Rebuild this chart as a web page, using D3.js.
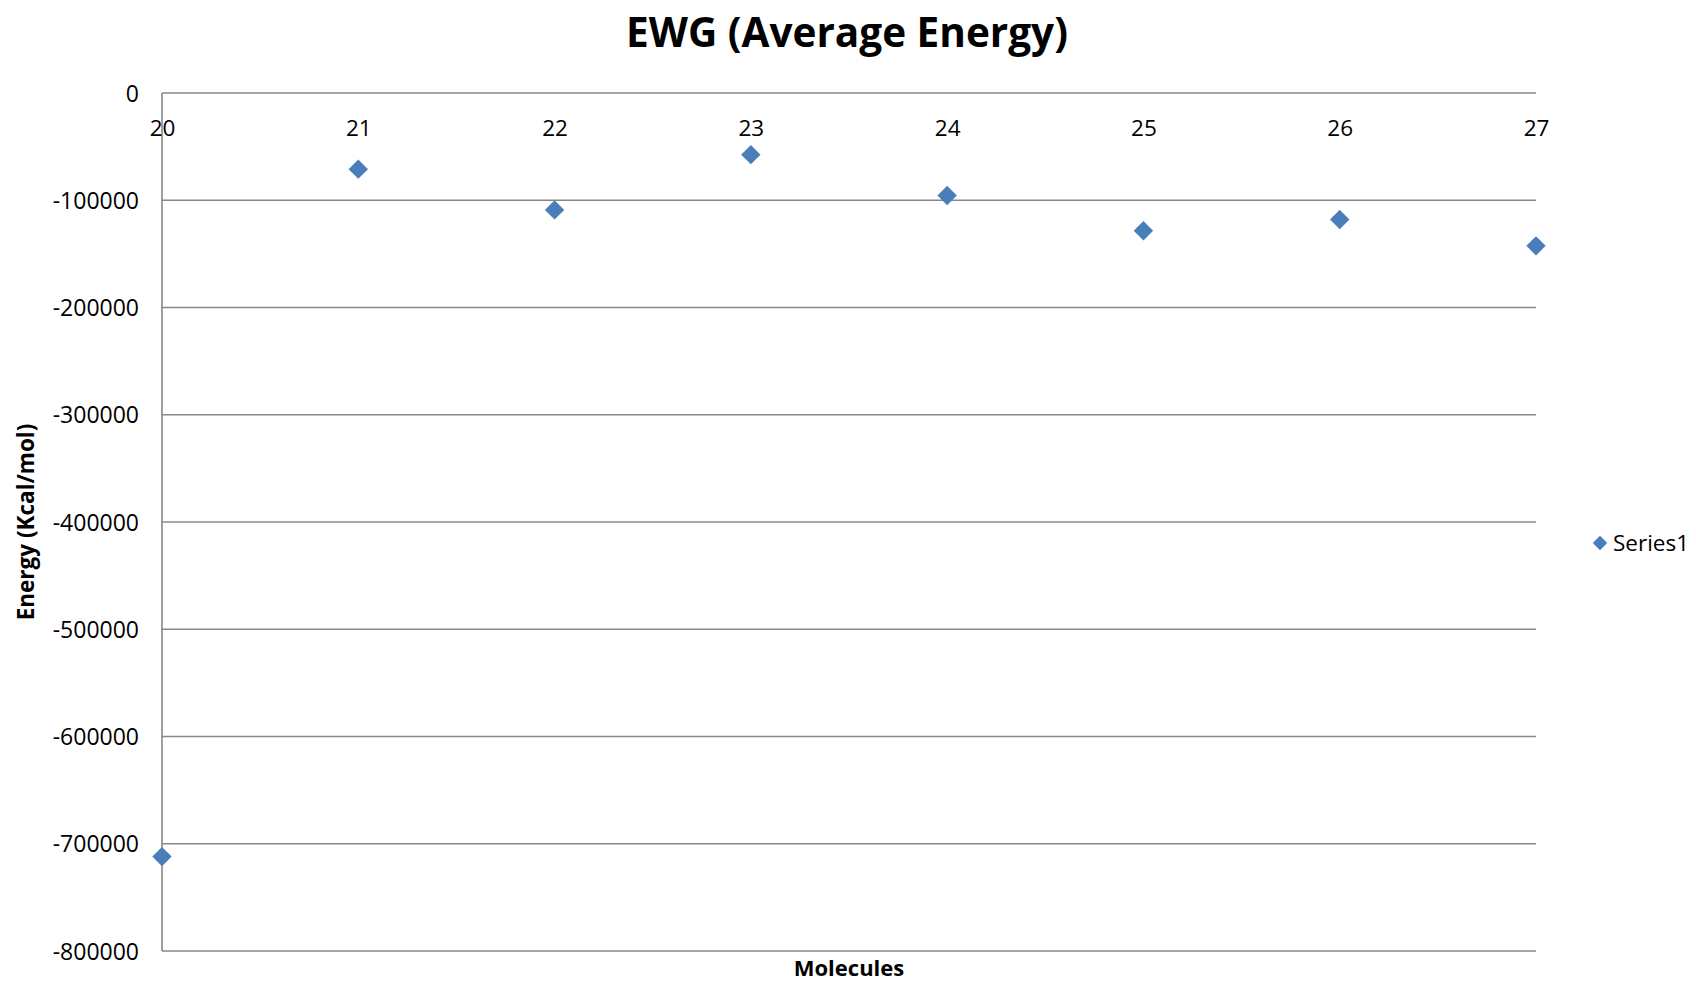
<!DOCTYPE html>
<html><head><meta charset="utf-8">
<script src="https://cdn.jsdelivr.net/npm/d3@7"></script>
<style>body{margin:0;background:#fff}svg{display:block}text{font-family:"Open Sans",sans-serif}</style>
</head><body><svg id="c" width="1696" height="984"></svg>
<script>
const molecules = [20, 21, 22, 23, 24, 25, 26, 27];
const energy = [-712000, -71000, -109000, -57500, -95500, -128500, -118000, -142500];
const yTicks = [0, -100000, -200000, -300000, -400000, -500000, -600000, -700000, -800000];
const seriesName = "Series1";
const title = "EWG (Average Energy)";
const xTitle = "Molecules";
const yTitle = "Energy (Kcal/mol)";

const svg = d3.select("#c");
const L = 162, R = 1536, T = 93, B = 951;
const x = d3.scaleLinear().domain([20, 27]).range([L, R]);
const y = d3.scaleLinear().domain([-800000, 0]).range([B, T]);
const col = "#4a7ebb", gridCol = "#888888";

// gridlines
svg.append("g").selectAll("line").data(yTicks).join("line")
  .attr("x1", L).attr("x2", R).attr("y1", d => y(d)).attr("y2", d => y(d))
  .attr("stroke", gridCol).attr("stroke-width", 1.6);
// left axis line
svg.append("line").attr("x1", L).attr("x2", L).attr("y1", T).attr("y2", B)
  .attr("stroke", gridCol).attr("stroke-width", 1.6);

// y axis labels
const yAxis = d3.axisLeft(y).tickValues(yTicks).tickSize(0).tickPadding(0).tickFormat(d => String(d));
const gy = svg.append("g").attr("transform", `translate(${L - 23},0)`).call(yAxis);
gy.select(".domain").remove();
gy.selectAll("text").attr("font-size", 23).attr("fill", "#000").attr("font-family", "'Open Sans',sans-serif").attr("dy", "0.35em");

// x axis labels (below the 0 line)
const xAxis = d3.axisBottom(x).tickValues(molecules).tickSize(0).tickPadding(0).tickFormat(d3.format("d"));
const gx = svg.append("g").attr("transform", `translate(0,${T + 43})`).call(xAxis);
gx.select(".domain").remove();
gx.selectAll("text").attr("font-size", 22.5).attr("fill", "#000").attr("font-family", "'Open Sans',sans-serif").attr("dy", "0");

// points
const diamond = d3.symbol().type(d3.symbolDiamond2).size(240);
svg.append("g").selectAll("path").data(molecules).join("path")
  .attr("d", diamond)
  .attr("transform", (d, i) => `translate(${x(d)},${y(energy[i])})`)
  .attr("fill", col);

// title
svg.append("text").attr("x", 847).attr("y", 47).attr("text-anchor", "middle")
  .attr("font-size", 40.5).attr("font-weight", "bold").text(title);
svg.append("text").attr("x", 849).attr("y", 976).attr("text-anchor", "middle")
  .attr("font-size", 22).attr("font-weight", "bold").text(xTitle);
svg.append("text").attr("transform", "translate(34,522) rotate(-90)").attr("text-anchor", "middle")
  .attr("font-size", 22.5).attr("font-weight", "bold").text(yTitle);

// legend
svg.append("path").attr("d", diamond).attr("transform", "translate(1600,543) scale(0.75)").attr("fill", col);
svg.append("text").attr("x", 1613).attr("y", 551).attr("font-size", 22.5).text(seriesName);
</script></body></html>
